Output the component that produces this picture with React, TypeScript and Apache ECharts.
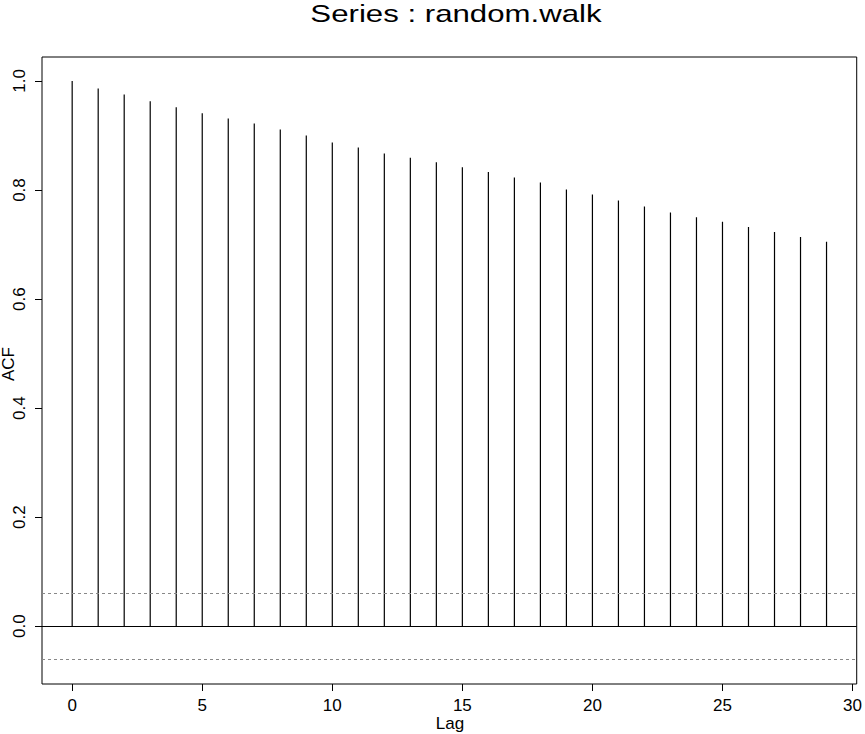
import { useEffect, useRef } from "react";
import * as echarts from "echarts";

const lags = [
  0, 1, 2, 3, 4, 5, 6, 7, 8, 9, 10, 11, 12, 13, 14, 15, 16, 17, 18, 19, 20,
  21, 22, 23, 24, 25, 26, 27, 28, 29,
];
const acfValues = [
  1.0, 0.986, 0.975, 0.963, 0.952, 0.941, 0.931, 0.922, 0.911, 0.9, 0.887,
  0.878, 0.867, 0.859, 0.851, 0.842, 0.833, 0.823, 0.814, 0.801, 0.792, 0.781,
  0.77, 0.759, 0.75, 0.742, 0.732, 0.723, 0.714, 0.705,
];
const ciBound = 0.063;
const xTicks = [0, 5, 10, 15, 20, 25, 30];
const yTicks = [0, 0.2, 0.4, 0.6, 0.8, 1.0];

const FONT = "Liberation Sans";

const App = () => {
  const chartRef = useRef<HTMLDivElement>(null);

  useEffect(() => {
    if (!chartRef.current) return;
    const chart = echarts.init(chartRef.current, undefined, { renderer: "svg" });

    const stems = lags.map((lag, i) => [lag, acfValues[i]]);

    chart.setOption({
      animation: false,
      backgroundColor: "#fff",
      textStyle: { fontFamily: FONT },
      grid: {
        left: 42,
        right: 6,
        top: 57,
        bottom: 50,
        show: true,
        borderColor: "#000",
        borderWidth: 1,
      },
      xAxis: {
        type: "value",
        min: -1.16,
        max: 30.16,
        axisLine: { show: false, onZero: false },
        splitLine: { show: false },
        axisTick: {
          show: true,
          length: 7,
          customValues: xTicks,
          lineStyle: { color: "#000", width: 1 },
        },
        axisLabel: {
          customValues: xTicks,
          color: "#000",
          fontSize: 17,
          fontFamily: FONT,
          margin: 13,
        },
      },
      yAxis: {
        type: "value",
        min: -0.106,
        max: 1.044,
        axisLine: { show: false, onZero: false },
        splitLine: { show: false },
        axisTick: {
          show: true,
          length: 7,
          customValues: yTicks,
          lineStyle: { color: "#000", width: 1 },
        },
        axisLabel: {
          customValues: yTicks,
          rotate: 90,
          color: "#000",
          fontSize: 17,
          fontFamily: FONT,
          margin: 14,
          formatter: (v: number) => v.toFixed(1),
        },
      },
      graphic: [
        {
          type: "text",
          x: 456,
          y: 14,
          scaleX: 1.3,
          style: {
            text: "Series : random.walk",
            fontSize: 24,
            fontFamily: FONT,
            fill: "#000",
            align: "center",
            verticalAlign: "middle",
          },
        },
        {
          type: "text",
          x: 450,
          y: 723,
          style: {
            text: "Lag",
            fontSize: 17,
            fontFamily: FONT,
            fill: "#000",
            align: "center",
            verticalAlign: "middle",
          },
        },
        {
          type: "text",
          x: 8,
          y: 364,
          rotation: Math.PI / 2,
          style: {
            text: "ACF",
            fontSize: 17,
            fontFamily: FONT,
            fill: "#000",
            align: "center",
            verticalAlign: "middle",
          },
        },
      ],
      series: [
        {
          type: "custom",
          data: stems,
          silent: true,
          renderItem: (_params: any, api: any) => {
            const x = api.value(0);
            const y = api.value(1);
            const p0 = api.coord([x, 0]);
            const p1 = api.coord([x, y]);
            return {
              type: "line",
              shape: { x1: p0[0], y1: p0[1], x2: p1[0], y2: p1[1] },
              style: { stroke: "#000", lineWidth: 1.2 },
            };
          },
        },
        {
          type: "line",
          data: [],
          silent: true,
          markLine: {
            silent: true,
            symbol: ["none", "none"],
            label: { show: false },
            data: [
              { yAxis: 0, lineStyle: { color: "#000", type: "solid", width: 1.2 } },
              { yAxis: ciBound, lineStyle: { color: "#888", type: [3, 3], width: 1 } },
              { yAxis: -ciBound, lineStyle: { color: "#888", type: [3, 3], width: 1 } },
            ],
          },
        },
      ],
    });

    return () => {
      chart.dispose();
    };
  }, []);

  return (
    <div
      ref={chartRef}
      style={{ position: "absolute", left: 0, top: 0, width: 865, height: 734 }}
    ></div>
  );
};

export default App;
